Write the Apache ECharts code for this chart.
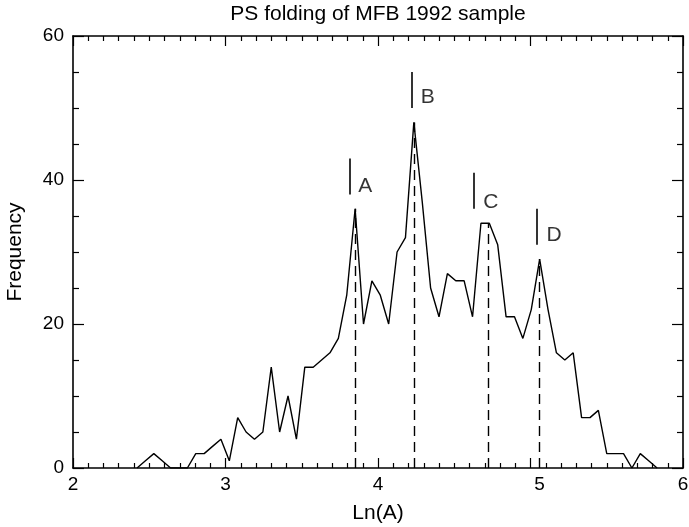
<!DOCTYPE html>
<html>
<head>
<meta charset="utf-8">
<title>PS folding of MFB 1992 sample</title>
<script src="https://cdn.jsdelivr.net/npm/echarts@6/dist/echarts.min.js"></script>
<style>
html, body { margin: 0; padding: 0; background: #fff; }
#chart { width: 689px; height: 527px; }
</style>
</head>
<body>
<div id="chart"></div>
<script>
// histogram of Ln(A): bin centres and counts
var lnA = [2.420, 2.475, 2.530, 2.585, 2.640, 2.695, 2.750, 2.805, 2.860, 2.915,
           2.970, 3.025, 3.080, 3.135, 3.190, 3.245, 3.300, 3.355, 3.410, 3.465,
           3.520, 3.575, 3.630, 3.685, 3.740, 3.795, 3.850, 3.905, 3.960, 4.015,
           4.070, 4.125, 4.180, 4.235, 4.290, 4.345, 4.400, 4.455, 4.510, 4.565,
           4.620, 4.675, 4.730, 4.785, 4.840, 4.895, 4.950, 5.005, 5.060, 5.115,
           5.170, 5.225, 5.280, 5.335, 5.390, 5.445, 5.500, 5.555, 5.610, 5.665,
           5.720, 5.775, 5.830];
var freq = [0, 1, 2, 1, 0, 0, 0, 2, 2, 3,
            4, 1, 7, 5, 4, 5, 14, 5, 10, 4,
            14, 14, 15, 16, 18, 24, 36, 20, 26, 24,
            20, 30, 32, 48, 37, 25, 21, 27, 26, 26,
            21, 34, 34, 31, 21, 21, 18, 22, 29, 22,
            16, 15, 16, 7, 7, 8, 2, 2, 2, 0,
            2, 1, 0];

// peaks A-D: dashed drop lines, short markers and letters
var peakNames = ['A', 'B', 'C', 'D'];
var peakX = [3.850, 4.235, 4.720, 5.060];
var peakY = [36, 48, 34, 29];
var markX = [3.812, 4.221, 4.628, 5.041];
var markLow = [38, 50, 36, 31];
var markHigh = [43, 55, 41, 36];
var labelX = [3.870, 4.280, 4.690, 5.105];
var labelY = [39.2, 51.5, 36.9, 32.3];

var xTicks = [2, 3, 4, 5, 6];
var yTicks = [0, 20, 40, 60];

var font = "'Liberation Sans', Arial, Helvetica, sans-serif";

var chart = echarts.init(document.getElementById('chart'));

function xAx(pos, labels) {
	return {
		type: 'value',
		position: pos,
		min: xTicks[0],
		max: xTicks[xTicks.length - 1],
		interval: xTicks[1] - xTicks[0],
		axisLine: { onZero: false, lineStyle: { color: '#000', width: 1.6 } },
		axisTick: { inside: true, length: 10, lineStyle: { color: '#000', width: 1.2 } },
		minorTick: { show: true, splitNumber: 10, length: 5, lineStyle: { color: '#000', width: 1.2 } },
		splitLine: { show: false },
		axisLabel: {
			show: labels, color: '#000', fontSize: 19, fontFamily: font, margin: 7,
			// the "5" sits a little right of its tick in the original
			formatter: function (v) { return v === 5 ? '{s|5}' : String(v); },
			rich: { s: { fontSize: 19, fontFamily: font, color: '#000', padding: [0, 0, 0, 18] } }
		},
		name: labels ? 'Ln(A)' : '',
		nameLocation: 'middle',
		nameGap: 35,
		nameTextStyle: { color: '#000', fontSize: 21, fontFamily: font }
	};
}

function yAx(pos, labels) {
	return {
		type: 'value',
		position: pos,
		min: yTicks[0],
		max: yTicks[yTicks.length - 1],
		interval: yTicks[1] - yTicks[0],
		axisLine: { onZero: false, lineStyle: { color: '#000', width: 1.6 } },
		axisTick: { inside: true, length: 11, lineStyle: { color: '#000', width: 1.2 } },
		minorTick: { show: true, splitNumber: 4, length: 6, lineStyle: { color: '#000', width: 1.2 } },
		splitLine: { show: false },
		axisLabel: { show: labels, color: '#000', fontSize: 19, fontFamily: font, margin: 9 },
		name: labels ? 'Frequency' : '',
		nameLocation: 'middle',
		nameGap: 47,
		nameTextStyle: { color: '#000', fontSize: 21, fontFamily: font }
	};
}

var dropLines = [], markLines = [], letters = [];
for (var i = 0; i < peakNames.length; i++) {
	dropLines.push([{ coord: [peakX[i], 0] }, { coord: [peakX[i], peakY[i]] }]);
	markLines.push([{ coord: [markX[i], markLow[i]] }, { coord: [markX[i], markHigh[i]] }]);
	letters.push({ name: peakNames[i], value: [labelX[i], labelY[i]] });
}

chart.setOption({
	animation: false,
	backgroundColor: '#fff',
	title: {
		text: 'PS folding of MFB 1992 sample',
		left: 373,
		textAlign: 'center',
		top: -1,
		textStyle: { color: '#000', fontSize: 21, fontWeight: 'normal', fontFamily: font }
	},
	grid: { left: 73, right: 6, top: 36, bottom: 59, containLabel: false, outerBoundsMode: 'none' },
	xAxis: [xAx('bottom', true), xAx('top', false)],
	yAxis: [yAx('left', true), yAx('right', false)],
	series: [
		{
			type: 'line',
			data: lnA.map(function (x, k) { return [x, freq[k]]; }),
			symbol: 'none',
			lineStyle: { color: '#000', width: 1.4 },
			z: 3
		},
		{
			type: 'line',
			data: [],
			markLine: {
				silent: true,
				symbol: ['none', 'none'],
				label: { show: false },
				lineStyle: { color: '#000', width: 1.4, type: [10, 6] },
				data: dropLines
			}
		},
		{
			type: 'line',
			data: [],
			markLine: {
				silent: true,
				symbol: ['none', 'none'],
				label: { show: false },
				lineStyle: { color: '#000', width: 1.6, type: 'solid' },
				data: markLines
			}
		},
		{
			type: 'scatter',
			data: letters,
			symbolSize: 0,
			label: {
				show: true,
				position: 'inside',
				align: 'left',
				verticalAlign: 'middle',
				formatter: '{b}',
				color: '#000',
				fontSize: 21,
				fontFamily: font
			}
		}
	]
});
window.onresize = chart.resize;
</script>
</body>
</html>
